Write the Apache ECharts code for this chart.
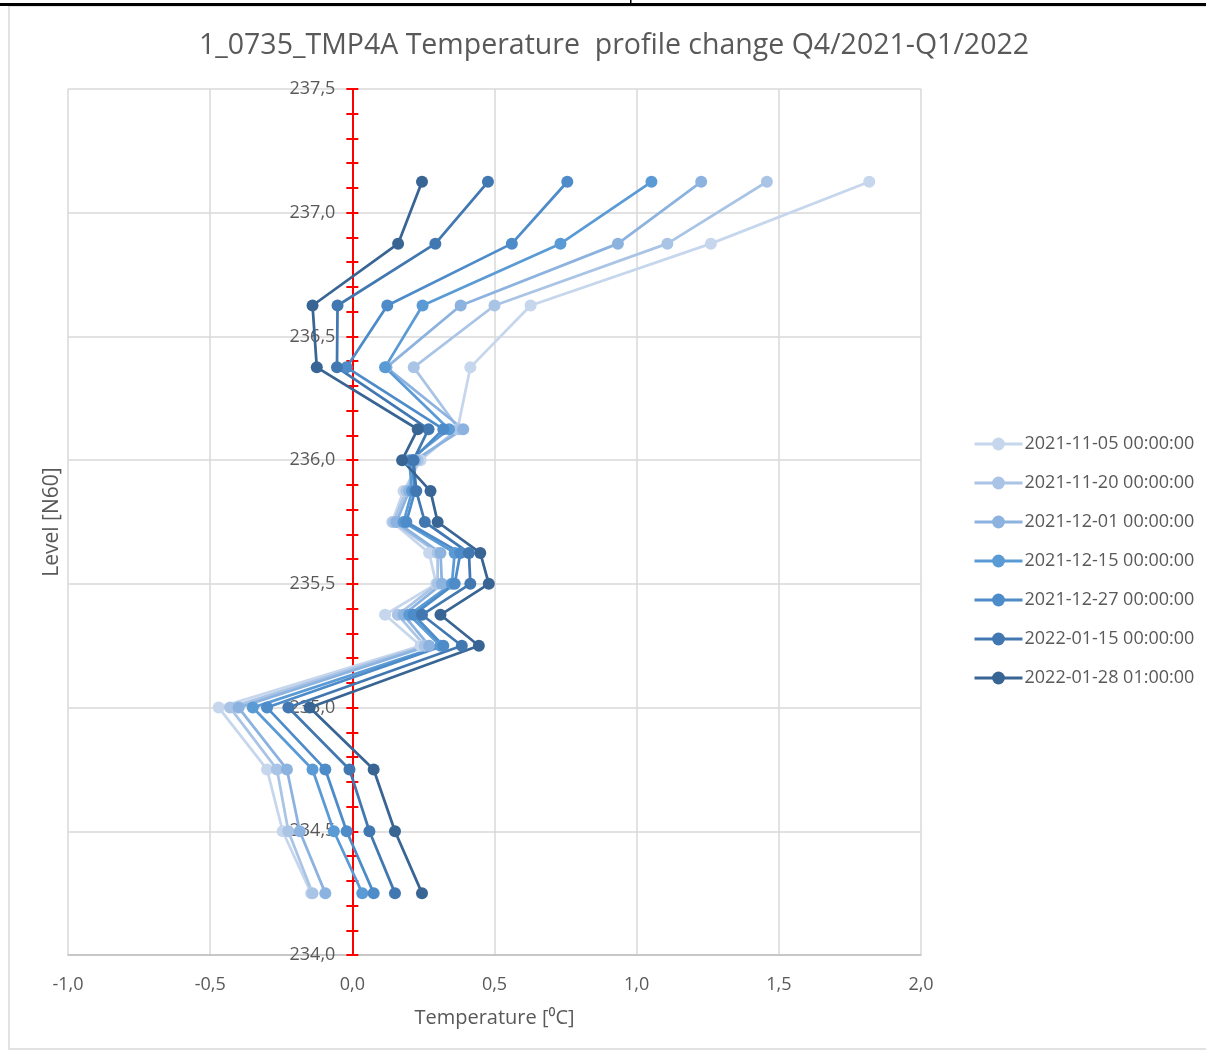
<!DOCTYPE html>
<html>
<head>
<meta charset="utf-8">
<script src="https://cdn.jsdelivr.net/npm/echarts@6/dist/echarts.min.js"></script>
<style>
	html,body{margin:0;padding:0;background:#fff;}
	#main{width:1206px;height:1052px;}
</style>
</head>
<body>
<div id="main"></div>
<script>
// 深度（N60）
var levels=[237.125,236.875,236.625,236.375,236.125,236.0,235.875,235.75,235.625,235.5,235.375,235.25,235.0,234.75,234.5,234.25];
// 日期
var dates=['2021-11-05 00:00:00','2021-11-20 00:00:00','2021-12-01 00:00:00','2021-12-15 00:00:00','2021-12-27 00:00:00','2022-01-15 00:00:00','2022-01-28 01:00:00'];
// 温度变化
var t20211105=[1.818,1.261,0.627,0.415,0.37,0.24,0.18,0.14,0.27,0.295,0.115,0.24,-0.47,-0.30,-0.245,-0.145];
var t20211120=[1.458,1.108,0.50,0.216,0.375,0.23,0.19,0.145,0.30,0.30,0.16,0.255,-0.43,-0.265,-0.225,-0.14];
var t20211201=[1.227,0.934,0.381,0.12,0.39,0.22,0.20,0.155,0.31,0.315,0.18,0.27,-0.40,-0.23,-0.185,-0.095];
var t20211215=[1.052,0.732,0.247,0.115,0.34,0.20,0.21,0.18,0.36,0.35,0.20,0.31,-0.35,-0.14,-0.065,0.035];
var t20211227=[0.756,0.561,0.123,-0.02,0.32,0.21,0.22,0.19,0.38,0.36,0.215,0.32,-0.30,-0.095,-0.02,0.075];
var t20220115=[0.477,0.292,-0.052,-0.054,0.268,0.215,0.225,0.255,0.41,0.415,0.245,0.385,-0.225,-0.01,0.06,0.15];
var t20220128=[0.245,0.161,-0.140,-0.125,0.23,0.175,0.275,0.30,0.45,0.48,0.31,0.445,-0.15,0.075,0.15,0.245];
var allTemps=[t20211105,t20211120,t20211201,t20211215,t20211227,t20220115,t20220128];
var colors=['#c6d6ec','#aac4e6','#8cb2e0','#5b9bd5','#4d8bc9','#4278b1','#386593'];

var fontName='"Open Sans", sans-serif';
var txtColor='#595959';
function fmt(v){ return v.toFixed(1).replace('.',','); }

// 绘图区
var gridL=68,gridW=853;
var xMin=-1,xMax=2;
var zeroOffset=-gridW*(0-xMin)/(xMax-xMin); // 纵轴移到 x=0

var series=dates.map(function(d,i){
	return {
		type:'line',
		name:d,
		symbol:'circle',
		symbolSize:12,
		data:levels.map(function(l,k){ return [allTemps[i][k],l]; }),
		itemStyle:{color:colors[i]},
		lineStyle:{color:colors[i],width:2.75}
	};
});

var chart=echarts.init(document.getElementById('main'));
var option={
	animation:false,
	backgroundColor:'#fff',
	title:{
		text:'1_0735_TMP4A Temperature  profile change Q4/2021-Q1/2022',
		left:199,
		top:31,
		padding:0,
		textStyle:{fontFamily:fontName,fontSize:28.5,fontWeight:'normal',color:txtColor}
	},
	legend:{
		orient:'vertical',
		left:968,
		top:430,
		itemWidth:48,
		itemHeight:16,
		itemGap:21,
		data:dates,
		lineStyle:{width:3},
		textStyle:{fontFamily:fontName,fontSize:18,color:txtColor,padding:[0,0,0,-3]}
	},
	grid:{left:gridL,width:gridW,top:89,bottom:97,containLabel:false,outerBoundsMode:'none'},
	xAxis:{
		type:'value',
		min:xMin,max:xMax,interval:0.5,
		name:'Temperature [\u2070C]',
		nameLocation:'middle',
		nameGap:53,
		nameTextStyle:{fontFamily:fontName,fontSize:20,color:txtColor},
		axisLine:{onZero:false,lineStyle:{color:'#bfbfbf',width:1.5}},
		axisTick:{show:false},
		axisLabel:{margin:21,fontFamily:fontName,fontSize:18,color:txtColor,formatter:fmt},
		splitLine:{show:true,lineStyle:{color:'#d9d9d9',width:1.5}}
	},
	yAxis:[{
		type:'value',
		min:234,max:237.5,interval:0.5,
		position:'left',
		offset:zeroOffset,
		name:'Level [N60]',
		nameLocation:'middle',
		nameGap:290,
		nameTextStyle:{fontFamily:fontName,fontSize:21,color:txtColor},
		axisLine:{show:true,onZero:false,lineStyle:{color:'#ff0000',width:2}},
		axisTick:{show:true,length:6,lineStyle:{color:'#ff0000',width:2}},
		minorTick:{show:true,splitNumber:5,length:6,lineStyle:{color:'#ff0000',width:2}},
		axisLabel:{margin:17,fontFamily:fontName,fontSize:18,color:txtColor,formatter:fmt},
		splitLine:{show:true,lineStyle:{color:'#d9d9d9',width:1.5}}
	},{
		// 另一侧的刻度
		type:'value',
		min:234,max:237.5,interval:0.5,
		position:'left',
		offset:zeroOffset,
		axisLine:{show:true,onZero:false,lineStyle:{color:'#ff0000',width:2}},
		axisTick:{show:true,inside:true,length:6,lineStyle:{color:'#ff0000',width:2}},
		minorTick:{show:true,splitNumber:5,length:6,lineStyle:{color:'#ff0000',width:2}},
		axisLabel:{show:false},
		splitLine:{show:false}
	}],
	graphic:[
		{type:'rect',silent:true,z:-1,shape:{x:9,y:6,width:1220,height:1043},style:{fill:null,stroke:'#d9d9d9',lineWidth:1.5}},
		{type:'rect',silent:true,shape:{x:0,y:3,width:1206,height:3},style:{fill:'#000'}},
		{type:'rect',silent:true,shape:{x:630,y:0,width:1.5,height:5},style:{fill:'#000'}}
	],
	series:series
};
chart.setOption(option);
</script>
</body>
</html>
